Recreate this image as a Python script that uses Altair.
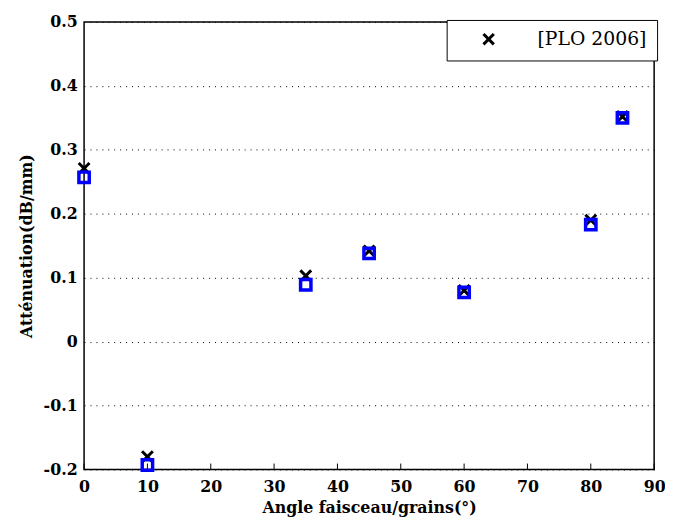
import altair as alt
import pandas as pd

angles = [0, 10, 35, 45, 60, 80, 85]
plo_2006 = [0.271, -0.180, 0.103, 0.142, 0.080, 0.190, 0.352]
measured = [0.257, -0.193, 0.089, 0.138, 0.077, 0.183, 0.350]
x_ticks = [0, 10, 20, 30, 40, 50, 60, 70, 80, 90]
y_ticks = [-0.2, -0.1, 0, 0.1, 0.2, 0.3, 0.4, 0.5]

W, H = 577, 453
FONT = "DejaVu Serif"
XPATH = "M-1,-1L1,1M-1,1L1,-1"

df_plo = pd.DataFrame({"angle": angles, "att": plo_2006, "series": ["[PLO 2006]"] * len(angles)})
df_meas = pd.DataFrame({"angle": angles, "att": measured})
df_xt = pd.DataFrame({"t": x_ticks})

xscale = alt.Scale(domain=[0, 90], nice=False, zero=False)
yscale = alt.Scale(domain=[-0.2, 0.5], nice=False, zero=False)

xaxis = alt.Axis(values=x_ticks, title="Angle faisceau/grains(°)", grid=False, ticks=False,
                 domain=False, labelPadding=9, titlePadding=6, labelFlush=False)
yaxis = alt.Axis(values=y_ticks, title="Atténuation(dB/mm)", grid=True, gridDash=[1, 5],
                 gridColor="#000000", gridOpacity=1, gridWidth=1, ticks=False, domain=False,
                 labelPadding=7, titlePadding=9,
                 labelExpr="datum.value == 0 ? '0' : replace(format(datum.value, '.1f'), '\u2212', '-')")

cross = alt.Chart(df_plo).mark_point(
    shape=XPATH, size=120, strokeWidth=3, filled=False, opacity=1
).encode(
    x=alt.X("angle:Q", scale=xscale, axis=xaxis),
    y=alt.Y("att:Q", scale=yscale, axis=yaxis),
    color=alt.Color("series:N", scale=alt.Scale(range=["#000000"]),
                    legend=alt.Legend(title=None, orient="none", legendX=367, legendY=-2,
                                      symbolType=XPATH, symbolSize=110, symbolStrokeWidth=3,
                                      symbolFillColor="transparent",
                                      labelFont=FONT, labelFontSize=19, labelFontWeight="normal",
                                      labelColor="#000000",
                                      strokeColor="#000000", fillColor="#ffffff",
                                      padding=10, symbolOffset=23, labelOffset=40,
                                      labelLimit=300)),
)

squares = alt.Chart(df_meas).mark_point(
    shape="square", size=110, strokeWidth=3.5, filled=False, color="#0000ff", opacity=1
).encode(
    x=alt.X("angle:Q", scale=xscale),
    y=alt.Y("att:Q", scale=yscale),
)

bottom_ticks = alt.Chart(df_xt).mark_rule(color="#000000", strokeWidth=1).encode(
    x=alt.X("t:Q", scale=xscale), y=alt.value(H), y2=alt.value(H - 6)
)

chart = alt.layer(bottom_ticks, cross, squares).properties(
    width=W, height=H,
    background="#ffffff",
    autosize=alt.AutoSizeParams(type="none"),
    padding={"left": 77, "top": 11, "right": 11, "bottom": 48},
).configure_view(
    stroke="#000000", strokeWidth=1.5
).configure_axis(
    labelFont=FONT, labelFontSize=16, labelFontWeight="bold", labelColor="#000000",
    titleFont=FONT, titleFontSize=16, titleFontWeight="bold", titleColor="#000000",
)

chart.save("out.html", embed_options={"renderer": "svg", "actions": False})
